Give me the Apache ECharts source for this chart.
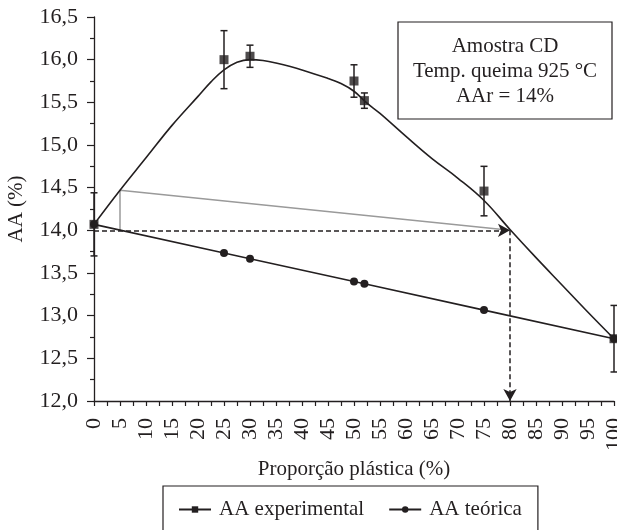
<!DOCTYPE html>
<html>
<head>
<meta charset="utf-8">
<script src="https://cdn.jsdelivr.net/npm/echarts@6/dist/echarts.min.js"></script>
<style>
    html, body { margin: 0; padding: 0; background: #fff; }
    #chart { width: 617px; height: 530px; }
</style>
</head>
<body>
<div id="chart"></div>
<script>
    // pontos experimentais (media e desvio)
    const expX = [0, 25, 30, 50, 52, 75, 100]
    const expY = [14.07, 16.0, 16.04, 15.75, 15.52, 14.46, 12.73]
    const expErr = [0.37, 0.34, 0.13, 0.19, 0.09, 0.29, 0.39]
    // AA teorica
    const teoX = [0, 25, 30, 50, 52, 75, 100]
    const teoY = [14.07, 13.735, 13.668, 13.40, 13.373, 13.065, 12.73]
    // curva ajustada
    const fitX = [0, 5, 10, 15, 20, 22.5, 25, 27.5, 30, 32.5, 35, 40, 45, 47.5, 50, 52.5, 55, 60, 65, 70, 75, 80, 85, 90, 95, 100]
    const fitY = [14.07, 14.47, 14.85, 15.23, 15.57, 15.74, 15.88, 15.97, 16.0, 15.99, 15.96, 15.88, 15.78, 15.72, 15.63, 15.49, 15.37, 15.10, 14.84, 14.61, 14.35, 14.01, 13.68, 13.36, 13.04, 12.73]
    // linha cinza
    const grayX = [5, 5, 80]
    const grayY = [14.0, 14.47, 14.0]
    // linhas tracejadas (inicio, fim)
    const guideX = [0, 80, 80]
    const guideY = [14.0, 14.0, 12.0]
    const boxLines = ['Amostra CD', 'Temp. queima 925 °C', 'AAr = 14%']

    const ink = '#231f20'
    const font = 'Liberation Serif'
    const pairs = (xs, ys) => xs.map((x, i) => [x, ys[i]])

    let chart = echarts.init(document.getElementById('chart'))
    let option = {
        animation: false,
        textStyle: { fontFamily: font, color: ink },
        grid: { left: 94, top: 17, width: 520, height: 384, outerBoundsMode: 'none' },
        legend: {
            left: 163,
            top: 486,
            padding: [13, 16, 40, 15],
            borderColor: ink,
            borderWidth: 1.2,
            itemWidth: 32,
            itemHeight: 8,
            itemGap: 24,
            data: ['AA experimental', 'AA teórica'],
            textStyle: { fontFamily: font, fontSize: 21, color: ink, padding: [0, 0, 0, 3] }
        },
        xAxis: {
            type: 'value',
            min: 0,
            max: 100,
            interval: 5,
            name: 'Proporção plástica (%)',
            nameLocation: 'middle',
            nameGap: 54,
            nameTextStyle: { fontFamily: font, fontSize: 21, color: ink },
            axisLine: { lineStyle: { color: ink, width: 1.3 } },
            axisTick: { length: 5, lineStyle: { color: ink, width: 1.2 } },
            minorTick: { show: true, splitNumber: 2, length: 5, lineStyle: { color: ink, width: 1.2 } },
            splitLine: { show: false },
            axisLabel: { rotate: 90, margin: 17, fontFamily: font, fontSize: 22, color: ink }
        },
        yAxis: {
            type: 'value',
            min: 12,
            max: 16.5,
            interval: 0.5,
            name: 'AA (%)',
            nameLocation: 'middle',
            nameGap: 67,
            nameTextStyle: { fontFamily: font, fontSize: 21, color: ink },
            axisLine: { show: true, lineStyle: { color: ink, width: 1.3 } },
            axisTick: { show: true, length: 7, lineStyle: { color: ink, width: 1.2 } },
            minorTick: { show: true, splitNumber: 2, length: 4, lineStyle: { color: ink, width: 1.2 } },
            splitLine: { show: false },
            axisLabel: {
                margin: 16, fontFamily: font, fontSize: 22, color: ink,
                formatter: v => v.toFixed(1).replace('.', ',')
            }
        },
        graphic: [
            {
                type: 'rect',
                shape: { x: 398, y: 22, width: 214, height: 97 },
                style: { fill: '#fff', stroke: ink, lineWidth: 1.2 },
                z: 10
            },
            {
                type: 'text',
                x: 505,
                y: 71,
                z: 11,
                style: {
                    text: boxLines.join('\n'),
                    font: '21px "Liberation Serif"',
                    fill: ink,
                    align: 'center',
                    verticalAlign: 'middle',
                    lineHeight: 25
                }
            }
        ],
        series: [
            {
                name: 'AA experimental',
                type: 'line',
                smooth: 0.4,
                data: pairs(fitX, fitY),
                showSymbol: false,
                symbol: 'rect',
                symbolSize: 8,
                itemStyle: { color: ink },
                lineStyle: { color: ink, width: 1.6 },
                z: 3
            },
            {
                name: 'AA teórica',
                type: 'line',
                data: pairs(teoX, teoY),
                symbol: 'circle',
                symbolSize: 8,
                itemStyle: { color: ink },
                lineStyle: { color: ink, width: 1.6 },
                z: 3
            },
            {
                name: 'cinza',
                type: 'line',
                data: pairs(grayX, grayY),
                showSymbol: false,
                lineStyle: { color: '#9a9a9a', width: 1.5 },
                z: 2
            },
            {
                name: 'guia',
                type: 'line',
                data: [],
                markLine: {
                    silent: true,
                    symbol: ['none', 'arrow'],
                    symbolSize: [10, 12],
                    lineStyle: { color: ink, width: 1.5, type: [5, 3] },
                    label: { show: false },
                    data: [
                        [{ coord: [guideX[0], guideY[0]] }, { coord: [guideX[1], guideY[1]] }],
                        [{ coord: [guideX[1], guideY[1]] }, { coord: [guideX[2], guideY[2]] }]
                    ]
                },
                z: 2
            },
            {
                name: 'erro',
                type: 'custom',
                data: expX.map((x, i) => [x, expY[i] - expErr[i], expY[i] + expErr[i]]),
                renderItem: function (params, api) {
                    let lo = api.coord([api.value(0), api.value(1)])
                    let hi = api.coord([api.value(0), api.value(2)])
                    let w = 3.5
                    let st = { stroke: ink, lineWidth: 1.5 }
                    return {
                        type: 'group',
                        children: [
                            { type: 'line', shape: { x1: lo[0], y1: lo[1], x2: hi[0], y2: hi[1] }, style: st },
                            { type: 'line', shape: { x1: lo[0] - w, y1: lo[1], x2: lo[0] + w, y2: lo[1] }, style: st },
                            { type: 'line', shape: { x1: hi[0] - w, y1: hi[1], x2: hi[0] + w, y2: hi[1] }, style: st }
                        ]
                    }
                },
                z: 4
            },
            {
                name: 'AA experimental',
                type: 'scatter',
                data: pairs(expX, expY),
                symbol: 'rect',
                symbolSize: 9,
                itemStyle: { color: ink },
                z: 5
            }
        ]
    }
    chart.setOption(option)
</script>
</body>
</html>
